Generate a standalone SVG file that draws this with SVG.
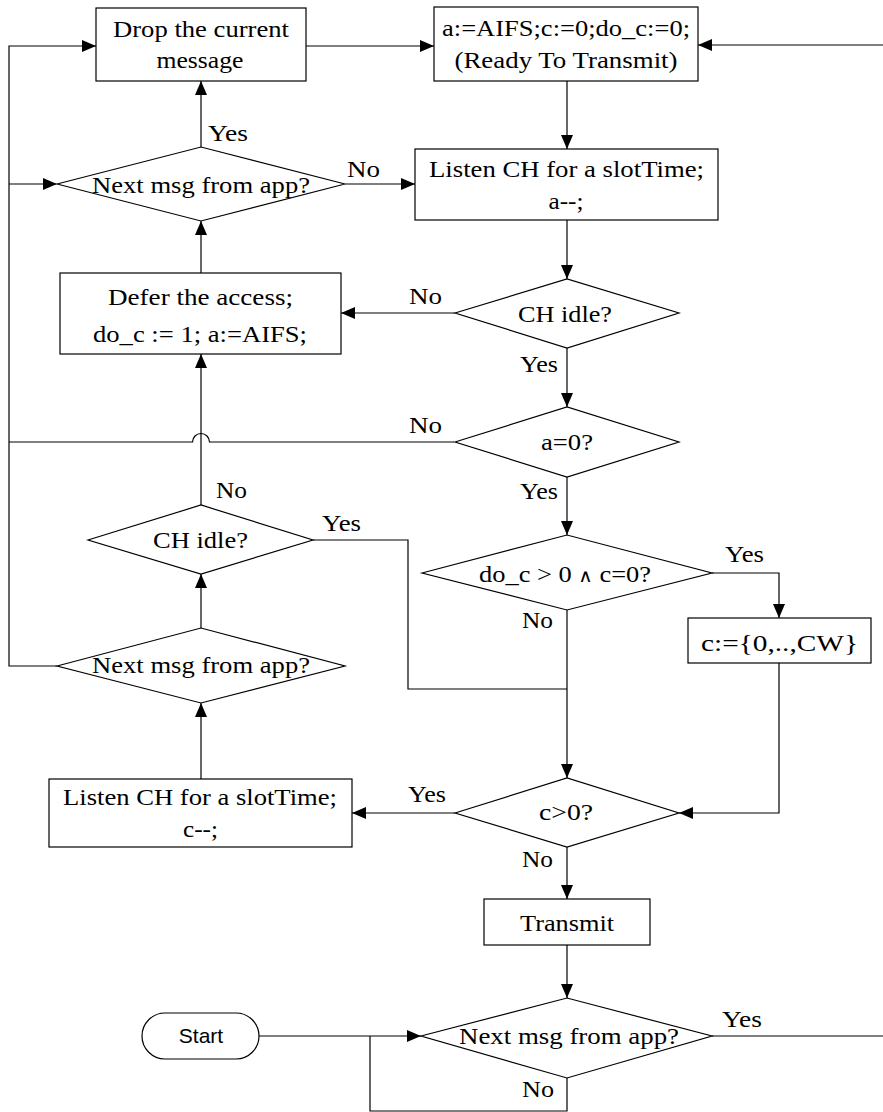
<svg xmlns="http://www.w3.org/2000/svg" width="883" height="1112" viewBox="0 0 883 1112">
<style>
.n{fill:#fff;stroke:#000;stroke-width:1.2}
.c{fill:none;stroke:#000;stroke-width:1.2}
.a{marker-end:url(#ah)}
.t{font-family:"Liberation Serif","Times New Roman",serif;font-size:24px;fill:#000}
.m{text-anchor:middle}
.s{font-family:"Liberation Sans",Arial,sans-serif;font-size:21px;fill:#000;text-anchor:middle}
.w{font-family:"DejaVu Serif",serif;font-size:18px;font-weight:300}
</style>
<defs>
<marker id="ah" markerUnits="userSpaceOnUse" markerWidth="14" markerHeight="12" refX="14" refY="6" orient="auto">
<path d="M0,0 L14,6 L0,12 z" fill="#000"/>
</marker>
</defs>
<rect width="883" height="1112" fill="#fff"/>
<g id="connectors">
<path class="c a" d="M57,666 H9 V46 H96"/>
<path class="c a" d="M9,184 H57"/>
<path class="c" d="M454,442 H209.5 A8.5,8.5 0 0 0 192.5,442 H9"/>
<path class="c a" d="M306,46 H434"/>
<path class="c a" d="M567,81 V149"/>
<path class="c a" d="M345,184 H415"/>
<path class="c a" d="M201,147 V81"/>
<path class="c a" d="M567,220 V279"/>
<path class="c a" d="M455,313 H341"/>
<path class="c a" d="M201,273 V221"/>
<path class="c a" d="M567,348 V407"/>
<path class="c a" d="M567,477 V535"/>
<path class="c a" d="M201,505 V354"/>
<path class="c" d="M313,540 H408 V689 H567"/>
<path class="c a" d="M712,573 H779 V618"/>
<path class="c a" d="M567,610 V778"/>
<path class="c a" d="M779,663 V813 H679"/>
<path class="c a" d="M455,813 H352"/>
<path class="c a" d="M567,847 V899"/>
<path class="c a" d="M201,628 V574"/>
<path class="c a" d="M201,779 V703"/>
<path class="c a" d="M567,945 V998"/>
<path class="c a" d="M259,1036 H421"/>
<path class="c" d="M567,1078 V1111 H370 V1036"/>
<path class="c" d="M712,1036 H883"/>
<path class="c a" d="M883,45 H698"/>
</g>
<g id="drop">
<rect class="n" x="96" y="8" width="210" height="73"/>
<text class="t m" x="201" y="37" textLength="176" lengthAdjust="spacingAndGlyphs">Drop the current</text>
<text class="t m" x="200" y="68" textLength="87" lengthAdjust="spacingAndGlyphs">message</text>
</g>
<g id="ready">
<rect class="n" x="434" y="7" width="264" height="74"/>
<text class="t m" x="566" y="36" textLength="248" lengthAdjust="spacingAndGlyphs">a:=AIFS;c:=0;do_c:=0;</text>
<text class="t m" x="566" y="68" textLength="223" lengthAdjust="spacingAndGlyphs">(Ready To Transmit)</text>
</g>
<g id="nextmsg1">
<polygon class="n" points="57,184 201,147 345,184 201,221"/>
<text class="t m" x="201" y="193" textLength="218" lengthAdjust="spacingAndGlyphs">Next msg from app?</text>
</g>
<g id="listenA">
<rect class="n" x="415" y="149" width="303" height="71"/>
<text class="t m" x="566.5" y="177" textLength="275" lengthAdjust="spacingAndGlyphs">Listen CH for a slotTime;</text>
<text class="t m" x="566" y="209" textLength="35" lengthAdjust="spacingAndGlyphs">a--;</text>
</g>
<g id="chidle1">
<polygon class="n" points="455,313 567,279 679,313 567,348"/>
<text class="t m" x="565" y="322" textLength="94" lengthAdjust="spacingAndGlyphs">CH idle?</text>
</g>
<g id="defer">
<rect class="n" x="60" y="273" width="281" height="81"/>
<text class="t m" x="200.5" y="305" textLength="185" lengthAdjust="spacingAndGlyphs">Defer the access;</text>
<text class="t m" x="200" y="342" textLength="214" lengthAdjust="spacingAndGlyphs">do_c := 1; a:=AIFS;</text>
</g>
<g id="azero">
<polygon class="n" points="455,442 567,407 679,442 567,477"/>
<text class="t m" x="567" y="450" textLength="52" lengthAdjust="spacingAndGlyphs">a=0?</text>
</g>
<g id="chidle2">
<polygon class="n" points="88,540 201,505 313,540 201,574"/>
<text class="t m" x="200.5" y="548" textLength="95" lengthAdjust="spacingAndGlyphs">CH idle?</text>
</g>
<g id="doc">
<polygon class="n" points="422,573 567,535 712,573 567,610"/>
<text class="t m" x="565" y="582" textLength="172" lengthAdjust="spacingAndGlyphs">do_c &gt; 0 <tspan class="w">∧</tspan> c=0?</text>
</g>
<g id="cw">
<rect class="n" x="688" y="618" width="183" height="45"/>
<text class="t m" x="779.5" y="651" textLength="157" lengthAdjust="spacingAndGlyphs">c:={0,..,CW}</text>
</g>
<g id="nextmsg2">
<polygon class="n" points="57,666 201,628 345,666 201,703"/>
<text class="t m" x="201" y="673" textLength="218" lengthAdjust="spacingAndGlyphs">Next msg from app?</text>
</g>
<g id="cgt0">
<polygon class="n" points="455,813 567,778 679,813 567,847"/>
<text class="t m" x="566" y="820" textLength="54" lengthAdjust="spacingAndGlyphs">c&gt;0?</text>
</g>
<g id="listenC">
<rect class="n" x="49" y="779" width="303" height="68"/>
<text class="t m" x="200" y="805" textLength="274" lengthAdjust="spacingAndGlyphs">Listen CH for a slotTime;</text>
<text class="t m" x="200.5" y="837" textLength="35" lengthAdjust="spacingAndGlyphs">c--;</text>
</g>
<g id="transmit">
<rect class="n" x="484" y="899" width="166" height="46"/>
<text class="t m" x="567" y="931" textLength="94" lengthAdjust="spacingAndGlyphs">Transmit</text>
</g>
<g id="nextmsg3">
<polygon class="n" points="421,1036 567,998 712,1036 567,1078"/>
<text class="t m" x="569" y="1044" textLength="220" lengthAdjust="spacingAndGlyphs">Next msg from app?</text>
</g>
<g id="start">
<rect class="n" x="142" y="1013" width="117" height="46" rx="23" ry="23"/>
<text class="s" x="201" y="1043">Start</text>
</g>
<g id="labels">
<text class="t" x="208" y="141" textLength="40" lengthAdjust="spacingAndGlyphs">Yes</text>
<text class="t" x="347" y="177" textLength="33" lengthAdjust="spacingAndGlyphs">No</text>
<text class="t" x="409" y="304" textLength="33" lengthAdjust="spacingAndGlyphs">No</text>
<text class="t" x="520" y="372" textLength="38" lengthAdjust="spacingAndGlyphs">Yes</text>
<text class="t" x="409" y="433" textLength="33" lengthAdjust="spacingAndGlyphs">No</text>
<text class="t" x="520" y="499" textLength="38" lengthAdjust="spacingAndGlyphs">Yes</text>
<text class="t" x="216" y="498" textLength="31" lengthAdjust="spacingAndGlyphs">No</text>
<text class="t" x="322" y="531" textLength="39" lengthAdjust="spacingAndGlyphs">Yes</text>
<text class="t" x="725" y="562" textLength="39" lengthAdjust="spacingAndGlyphs">Yes</text>
<text class="t" x="522" y="628" textLength="31" lengthAdjust="spacingAndGlyphs">No</text>
<text class="t" x="408" y="802" textLength="38" lengthAdjust="spacingAndGlyphs">Yes</text>
<text class="t" x="522" y="867" textLength="31" lengthAdjust="spacingAndGlyphs">No</text>
<text class="t" x="722" y="1027" textLength="40" lengthAdjust="spacingAndGlyphs">Yes</text>
<text class="t" x="522" y="1097" textLength="32" lengthAdjust="spacingAndGlyphs">No</text>
</g>
</svg>
